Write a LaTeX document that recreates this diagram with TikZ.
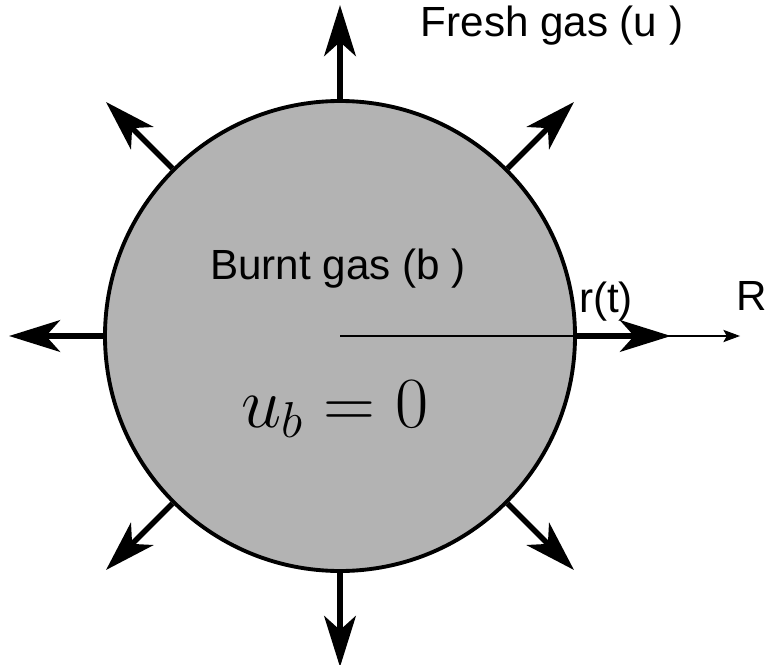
\RequirePackage{fix-cm}
\documentclass[tikz,border=0pt]{standalone}
\usepackage{fontspec}
\setmainfont{Liberation Sans}
\usepackage{amsmath}
\usetikzlibrary{arrows.meta,calc}
\definecolor{burntgray}{RGB}{179,179,179}

\begin{document}
\begin{tikzpicture}[
  flamebox/.style={circle, draw, line width=2.2pt, fill=burntgray,
                   minimum size=9.4cm, inner sep=0pt},
  gaslabel/.style={font=\fontsize{24}{28}\selectfont, anchor=base, inner sep=0pt},
  outarr/.style={-{Stealth[length=29pt, width=18pt, inset=8pt]}, line width=3.1pt},
  radarr/.style={-{Stealth[length=9.5pt, width=7pt, inset=2pt]}, line width=0.6pt}
]
\useasboundingbox (-6.8,-6.56) rectangle (8.54,6.72);

%% Burnt gas kernel
\node[flamebox] (flame) at (0,0) {};

%% Radial axis
\coordinate (rtip) at (8.0,0);
\draw[radarr] (flame.center) -- (rtip);

%% Expansion arrows
\foreach \ang in {0,45,...,315}
  \draw[outarr] (flame.\ang) -- ($(flame.\ang)+(\ang:1.88)$);

%% Labels
\node[gaslabel] (fresh) at (4.24,5.98) {Fresh gas (u )};
\node[gaslabel] (burnt) at (-0.04,1.14) {Burnt gas (b )};
\node[gaslabel] (radius) at (5.32,0.48) {r(t)};
\node[gaslabel] (rlabel) at (8.24,0.52) {R};
\node[anchor=base, inner sep=0pt, font=\fontsize{41}{44}\selectfont] (ub) at (-0.1,-1.82) {$u_b = 0$};

\end{tikzpicture}
\end{document}
